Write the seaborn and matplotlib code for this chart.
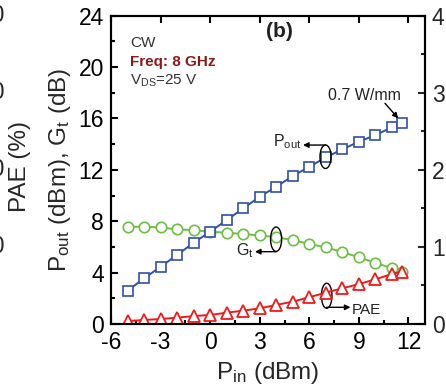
import matplotlib
matplotlib.use("Agg")
import matplotlib.pyplot as plt
import numpy as np
import pandas as pd
import seaborn as sns
from matplotlib.patches import Ellipse
from matplotlib.ticker import MultipleLocator, FixedFormatter

# ---- data ----
pin = [-5, -4, -3, -2, -1, 0, 1, 2, 3, 4, 5, 6, 7, 8, 9, 10, 11, 11.6]
pout = [2.59, 3.55, 4.46, 5.37, 6.33, 7.18, 8.09, 9.00, 9.91, 10.69, 11.52,
        12.24, 12.97, 13.60, 14.19, 14.71, 15.31, 15.62]
gt = [7.57, 7.57, 7.52, 7.37, 7.31, 7.18, 7.11, 7.00, 6.90, 6.75, 6.54,
      6.23, 5.97, 5.60, 5.19, 4.77, 4.33, 4.05]
pae = [0.38, 0.52, 0.65, 0.82, 1.03, 1.17, 1.47, 1.73, 2.03, 2.47, 2.90,
       3.47, 4.07, 4.63, 5.18, 5.80, 6.48, 6.78]
xticks = [-6, -3, 0, 3, 6, 9, 12]
yticks_left = [0, 4, 8, 12, 16, 20, 24]
yticks_right = [0, 10, 20, 30, 40]
# the reference is cropped at its right edge: only the first digit shows
yticklabels_right = ["0", "1", "2", "3", "4"]

df = pd.DataFrame({"pin": pin, "pout": pout, "gt": gt, "pae": pae})

sns.set_theme(style="ticks")
plt.rcParams["font.family"] = ["Liberation Sans", "DejaVu Sans"]
plt.rcParams["mathtext.default"] = "regular"
plt.rcParams["axes.unicode_minus"] = False

BLUE = "#3050A8"
GREEN = "#6CBE45"
RED = "#F01A1A"

fig = plt.figure(figsize=(4.46, 3.92), dpi=100)
fig.subplots_adjust(left=111 / 446, right=425 / 446,
                    bottom=1 - 324 / 392, top=1 - 15.7 / 392)
ax1 = fig.add_subplot(111)

sns.lineplot(data=df, x="pin", y="pout", ax=ax1, color=BLUE, linewidth=1.4,
             marker="s", markersize=7, markerfacecolor="white",
             markeredgecolor=BLUE, markeredgewidth=1.2, zorder=3)
sns.lineplot(data=df, x="pin", y="gt", ax=ax1, color=GREEN, linewidth=1.4,
             marker="o", markersize=7.5, markerfacecolor="white",
             markeredgecolor=GREEN, markeredgewidth=1.2, zorder=2)

ax2 = ax1.twinx()
sns.lineplot(data=df, x="pin", y="pae", ax=ax2, color=RED, linewidth=1.4,
             marker="^", markersize=8, markerfacecolor="white",
             markeredgecolor=RED, markeredgewidth=1.3)

ax1.set_xlim(-6, 13)
ax1.set_ylim(0, 24)
ax2.set_ylim(0, 40)
ax1.set_xticks(xticks)
ax1.set_yticks(yticks_left)
ax2.set_yticks(yticks_right)
ax2.yaxis.set_major_formatter(FixedFormatter(yticklabels_right))
ax1.xaxis.set_minor_locator(MultipleLocator(1.5))
ax1.yaxis.set_minor_locator(MultipleLocator(2))
ax2.yaxis.set_minor_locator(MultipleLocator(5))

TICK_FS = 16.5
ax1.tick_params(which="both", direction="in", top=True, right=False,
                width=1.5, labelsize=TICK_FS, pad=5, colors="black")
ax1.tick_params(which="major", length=5)
ax1.tick_params(which="minor", length=3, top=False)
ax2.tick_params(which="both", direction="in", right=True, left=False,
                top=False, bottom=False, width=1.5, labelsize=TICK_FS, pad=5)
ax2.tick_params(which="major", length=5)
ax2.tick_params(which="minor", length=3)

for ax in (ax1, ax2):
    for s in ax.spines.values():
        s.set_linewidth(1.5)
        s.set_color("black")

ax1.set_xlabel("P$_{in}$ (dBm)", fontsize=17.5, labelpad=4)
ax1.set_ylabel("P$_{out}$ (dBm), G$_{t}$ (dB)", fontsize=17.5, labelpad=4)
ax2.set_ylabel("")

# ---- text annotations (data coordinates of the left axis) ----
T = ax1.transData
ax2.text(-4.85, 21.59, "CW", transform=T, fontsize=11, color="#333333")
ax2.text(-4.85, 20.11, "Freq: 8 GHz", transform=T, fontsize=11,
         color="#8B1A1A", fontweight="bold")
ax2.text(-4.85, 18.6, "V$_{DS}$=25 V", transform=T, fontsize=11, color="#333333")
ax2.text(4.22, 22.34, "(b)", transform=T, fontsize=15, fontweight="bold",
         ha="center", color="#222222")
ax2.text(7.15, 17.44, "0.7 W/mm", transform=T, fontsize=11.5, color="#222222")

arrow = dict(arrowstyle="-|>", color="black", lw=1.0, mutation_scale=8,
             shrinkA=0, shrinkB=0)
ax2.annotate("", xy=(11.38, 16.01), xytext=(10.58, 17.18), xycoords=T,
             textcoords=T, arrowprops=arrow)

# Pout marker
ax2.add_patch(Ellipse((6.98, 13.02), 0.67, 1.83, transform=T, fill=False,
                      edgecolor="black", lw=1.0))
ax2.annotate("", xy=(5.62, 13.93), xytext=(6.98, 13.93), xycoords=T,
             textcoords=T, arrowprops=arrow)
ax2.text(5.49, 13.80, "P$_{out}$", transform=T, fontsize=11.5, ha="right",
         color="#222222")

# Gt marker
ax2.add_patch(Ellipse((3.99, 6.6), 0.67, 1.9, transform=T, fill=False,
                      edgecolor="black", lw=1.0))
ax2.annotate("", xy=(2.71, 5.63), xytext=(4.01, 5.63), xycoords=T,
             textcoords=T, arrowprops=arrow)
ax2.text(2.65, 5.37, "G$_{t}$", transform=T, fontsize=11.5, ha="right",
         color="#222222")

# PAE marker
ax2.add_patch(Ellipse((7.05, 2.20), 0.64, 1.95, transform=T, fill=False,
                      edgecolor="black", lw=1.0))
ax2.annotate("", xy=(8.49, 1.30), xytext=(7.05, 1.30), xycoords=T,
             textcoords=T, arrowprops=arrow)
ax2.text(8.58, 0.78, "PAE", transform=T, fontsize=11, ha="left",
         color="#222222")

# ---- fragments of the neighbouring panel cropped at the left edge ----
for lab, ypx in zip(["40", "30", "20", "10"], [15.7, 92.8, 170, 247]):
    fig.text(5 / 446, 1 - ypx / 392, lab, fontsize=TICK_FS, ha="right",
             va="center")
fig.text(20 / 446, 1 - 166 / 392, "PAE (%)", fontsize=17.5, rotation=90,
         ha="center", va="center")

fig.savefig("out.png", dpi=100)
